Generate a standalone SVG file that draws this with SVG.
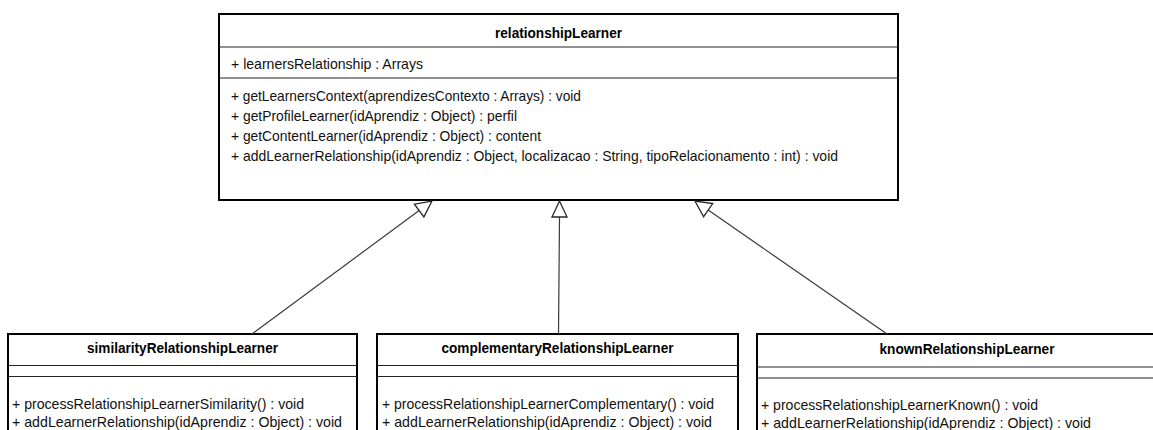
<svg xmlns="http://www.w3.org/2000/svg" width="1153" height="430" viewBox="0 0 1153 430">
  <style>
    .box { fill: #ffffff; stroke: #000000; stroke-width: 2; }
    .div { stroke: #222222; stroke-width: 1.2; }
    .t { font-family: "Liberation Sans", Arial, sans-serif; font-size: 15px; fill: #111111; }
    .title { font-family: "Liberation Sans", Arial, sans-serif; font-size: 15px; font-weight: bold; fill: #000000; text-anchor: middle; }
    .edge { stroke: #3a3a3a; stroke-width: 1.2; fill: none; }
    .head { fill: #ffffff; stroke: #2a2a2a; stroke-width: 1.3; stroke-linejoin: miter; }
  </style>

  <!-- parent class -->
  <g id="relationshipLearner">
    <rect class="box" x="219" y="14" width="679" height="186"/>
    <line class="div" x1="219" y1="47" x2="898" y2="47"/>
    <line class="div" x1="219" y1="78" x2="898" y2="78"/>
    <text class="title" x="558.5" y="37.5" textLength="127" lengthAdjust="spacingAndGlyphs">relationshipLearner</text>
    <text class="t" x="231" y="68.5" textLength="192" lengthAdjust="spacingAndGlyphs">+ learnersRelationship : Arrays</text>
    <text class="t" x="231" y="100.5" textLength="350" lengthAdjust="spacingAndGlyphs">+ getLearnersContext(aprendizesContexto : Arrays) : void</text>
    <text class="t" x="231" y="120.5" textLength="286" lengthAdjust="spacingAndGlyphs">+ getProfileLearner(idAprendiz : Object) : perfil</text>
    <text class="t" x="231" y="140.5" textLength="310" lengthAdjust="spacingAndGlyphs">+ getContentLearner(idAprendiz : Object) : content</text>
    <text class="t" x="231" y="160.5" textLength="607" lengthAdjust="spacingAndGlyphs">+ addLearnerRelationship(idAprendiz : Object, localizacao : String, tipoRelacionamento : int) : void</text>
  </g>

  <!-- subclasses -->
  <g id="similarityRelationshipLearner">
    <rect class="box" x="8" y="334" width="349" height="120"/>
    <line class="div" x1="8" y1="365.5" x2="357" y2="365.5"/>
    <line class="div" x1="8" y1="376.5" x2="357" y2="376.5"/>
    <text class="title" x="182.5" y="353" textLength="191" lengthAdjust="spacingAndGlyphs">similarityRelationshipLearner</text>
    <text class="t" x="12" y="409" textLength="292" lengthAdjust="spacingAndGlyphs">+ processRelationshipLearnerSimilarity() : void</text>
    <text class="t" x="12" y="427" textLength="330" lengthAdjust="spacingAndGlyphs">+ addLearnerRelationship(idAprendiz : Object) : void</text>
  </g>

  <g id="complementaryRelationshipLearner">
    <rect class="box" x="377" y="334" width="361" height="120"/>
    <line class="div" x1="377" y1="365.5" x2="738" y2="365.5"/>
    <line class="div" x1="377" y1="376.5" x2="738" y2="376.5"/>
    <text class="title" x="557.5" y="353" textLength="232" lengthAdjust="spacingAndGlyphs">complementaryRelationshipLearner</text>
    <text class="t" x="382" y="409" textLength="332" lengthAdjust="spacingAndGlyphs">+ processRelationshipLearnerComplementary() : void</text>
    <text class="t" x="382" y="427" textLength="330" lengthAdjust="spacingAndGlyphs">+ addLearnerRelationship(idAprendiz : Object) : void</text>
  </g>

  <g id="knownRelationshipLearner">
    <rect class="box" x="757" y="334" width="420" height="120"/>
    <line class="div" x1="757" y1="367" x2="1177" y2="367"/>
    <line class="div" x1="757" y1="378" x2="1177" y2="378"/>
    <text class="title" x="967" y="354" textLength="175" lengthAdjust="spacingAndGlyphs">knownRelationshipLearner</text>
    <text class="t" x="761" y="410" textLength="277" lengthAdjust="spacingAndGlyphs">+ processRelationshipLearnerKnown() : void</text>
    <text class="t" x="761" y="428" textLength="330" lengthAdjust="spacingAndGlyphs">+ addLearnerRelationship(idAprendiz : Object) : void</text>
  </g>

  <!-- generalization connectors with hollow triangle heads -->
  <g id="connectors">
    <line class="edge" x1="252" y1="334" x2="419.1" y2="210.5"/>
    <polygon class="head" points="432,201 423.9,216.9 414.4,204.1"/>

    <line class="edge" x1="558.5" y1="334" x2="559.5" y2="217"/>
    <polygon class="head" points="559.5,201 567,217 552,217"/>

    <line class="edge" x1="887" y1="334" x2="708.2" y2="210.1"/>
    <polygon class="head" points="695,201 712.7,203.5 703.6,216.7"/>
  </g>
</svg>
